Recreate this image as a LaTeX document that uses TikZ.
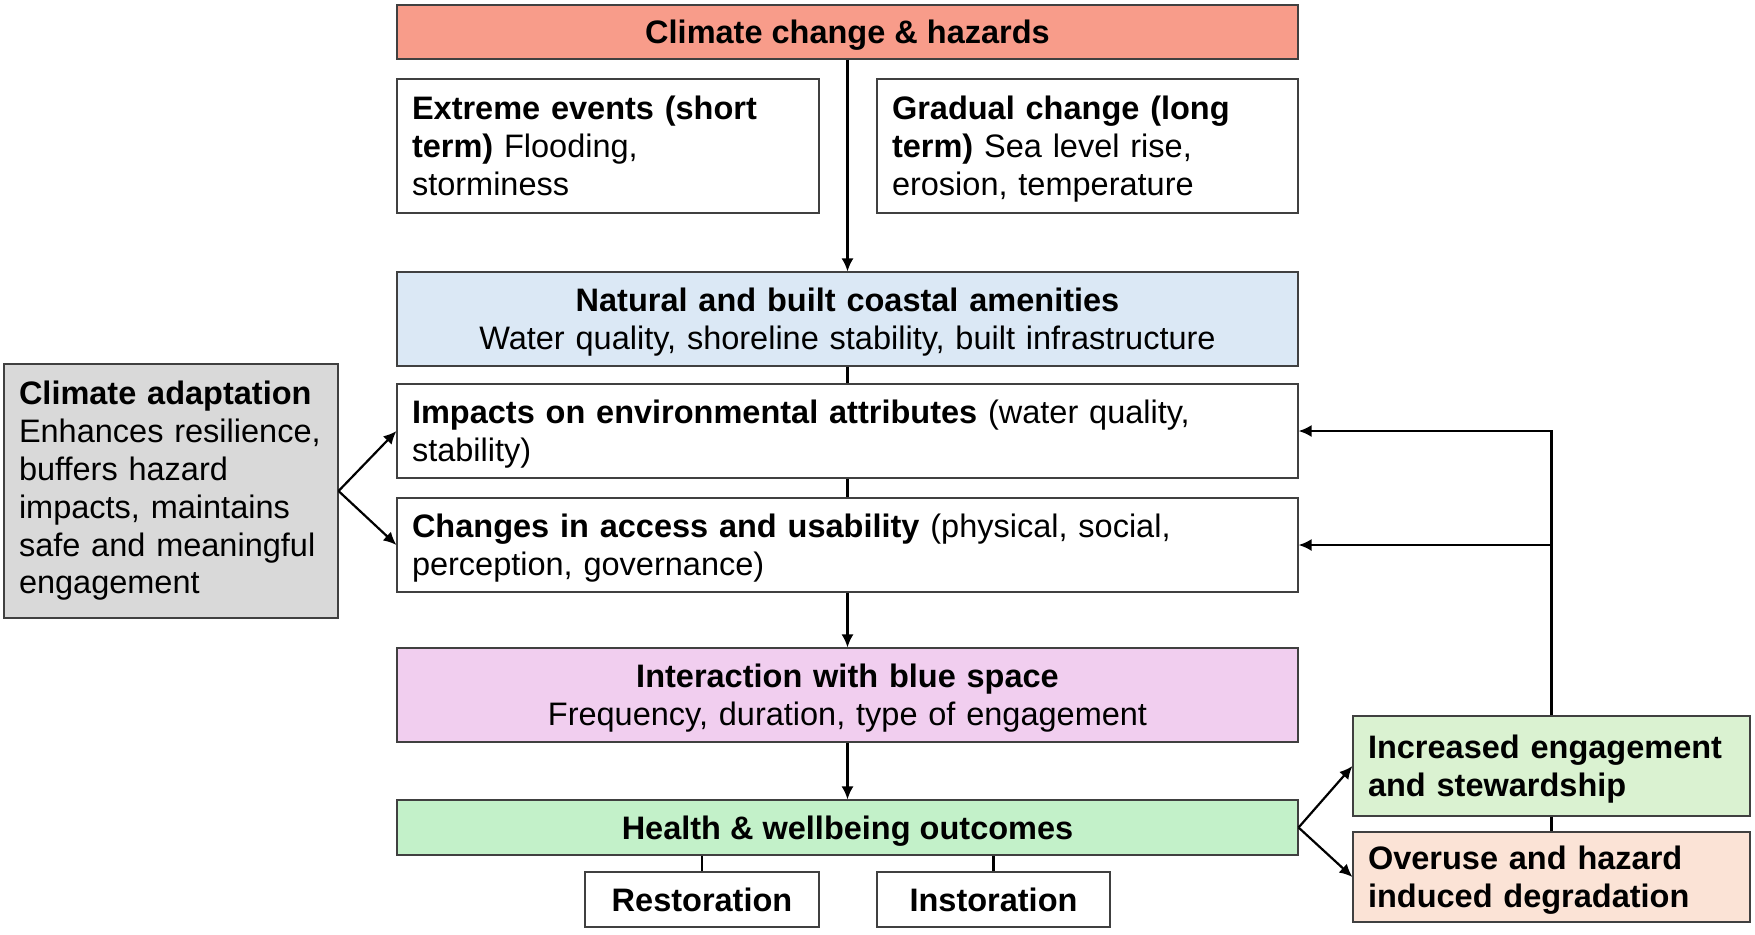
\documentclass[tikz,border=0pt]{standalone}
\usepackage{fontspec}
\setmainfont{Liberation Sans}
\usetikzlibrary{arrows.meta}
\definecolor{cSalmon}{HTML}{F89C8A}
\definecolor{cBlue}{HTML}{DBE8F5}
\definecolor{cPink}{HTML}{F1CEEF}
\definecolor{cGreen}{HTML}{C3F1C9}
\definecolor{cLtGreen}{HTML}{DAF2D1}
\definecolor{cPeach}{HTML}{FBE3D6}
\definecolor{cGray}{HTML}{D9D9D9}
\tikzset{
  box/.style={draw=black!75, line width=0.55pt, rectangle, inner ysep=0pt, inner xsep=7.5pt,
    font=\fontsize{16.25}{18.9}\selectfont},
  lbox/.style={box, align=left},
  cbox/.style={box, align=center},
  sbox/.style={box, text depth=0pt},
  conn/.style={line width=1.1pt, black},
  arr/.style={conn, -{Latex[length=6.5pt,width=6pt]}}
}
\begin{document}
\begin{tikzpicture}[x=0.5pt,y=-0.5pt]
\useasboundingbox (0,0) rectangle (1755,934);
% main column
\node[sbox, fill=cSalmon, minimum width=450.5pt, minimum height=27pt] (top) at (847.5,32) {\textbf{Climate change \& hazards}};
\node[lbox, fill=white, minimum height=67pt, text width=196pt] (ext) at (608,146)
  {\textbf{Extreme events (short}\\\textbf{term)} Flooding,\\storminess};
\node[lbox, fill=white, minimum height=67pt, text width=195.5pt] (grad) at (1087.5,146)
  {\textbf{Gradual change (long}\\\textbf{term)} Sea level rise,\\\smash{erosion, temperature}};
\node[cbox, fill=cBlue, minimum height=47pt, text width=435.5pt] (nat) at (847.5,319)
  {\textbf{Natural and built coastal amenities}\\\smash{Water quality, shoreline stability, built infrastructure}};
\node[lbox, fill=white, minimum height=47pt, text width=435.5pt] (imp) at (847.5,431)
  {\textbf{Impacts on environmental attributes} (water quality,\\\smash{stability)}};
\node[lbox, fill=white, minimum height=47pt, text width=435.5pt] (chg) at (847.5,545)
  {\textbf{Changes in access and usability} (physical, social,\\\smash{perception, governance)}};
\node[cbox, fill=cPink, minimum height=47pt, text width=435.5pt] (int) at (847.5,695)
  {\textbf{Interaction with blue space}\\\smash{Frequency, duration, type of engagement}};
\node[sbox, fill=cGreen, minimum width=450.5pt, minimum height=27.5pt] (hw) at (847.5,827.5)
  {\textbf{Health \& wellbeing outcomes}};
\node[sbox, fill=white, minimum width=117pt, minimum height=27.5pt] (rest) at (702,899.5) {\textbf{Restoration}};
\node[sbox, fill=white, minimum width=116.5pt, minimum height=27.5pt] (inst) at (993.5,899.5) {\textbf{Instoration}};
% side boxes
\node[lbox, fill=cGray, minimum height=127pt, text width=152pt] (adapt) at (171,491)
  {\textbf{Climate adaptation}\\Enhances resilience,\\buffers hazard\\impacts, maintains\\safe and meaningful\\engagement};
\node[lbox, fill=cLtGreen, minimum height=50pt, text width=183.5pt] (inc) at (1551.5,766)
  {\textbf{Increased engagement}\\\smash{\textbf{and stewardship}}};
\node[lbox, fill=cPeach, minimum height=45pt, text width=183.5pt] (ovr) at (1551.5,877)
  {\textbf{Overuse and hazard}\\\smash{\textbf{induced degradation}}};
% connectors
\draw[arr] (top) -- (nat);
\draw[conn] (nat) -- (imp);
\draw[conn] (imp) -- (chg);
\draw[arr] (chg) -- (int);
\draw[arr] (int) -- (hw);
\draw[conn] (rest.north) -- (rest.north |- hw.south);
\draw[conn] (inst.north) -- (inst.north |- hw.south);
\draw[arr] (adapt.east) -- (imp.west);
\draw[arr] (adapt.east) -- (chg.west);
\draw[arr] (hw.east) -- (inc.west);
\draw[arr] (hw.east) -- (ovr.west);
\draw[conn] (inc) -- (ovr);
\coordinate (tImp) at (inc.north |- imp.east);
\coordinate (tChg) at (inc.north |- chg.east);
\draw[arr] (inc.north) -- (tImp) -- (imp.east);
\draw[arr] (tChg) -- (chg.east);
\end{tikzpicture}
\end{document}
